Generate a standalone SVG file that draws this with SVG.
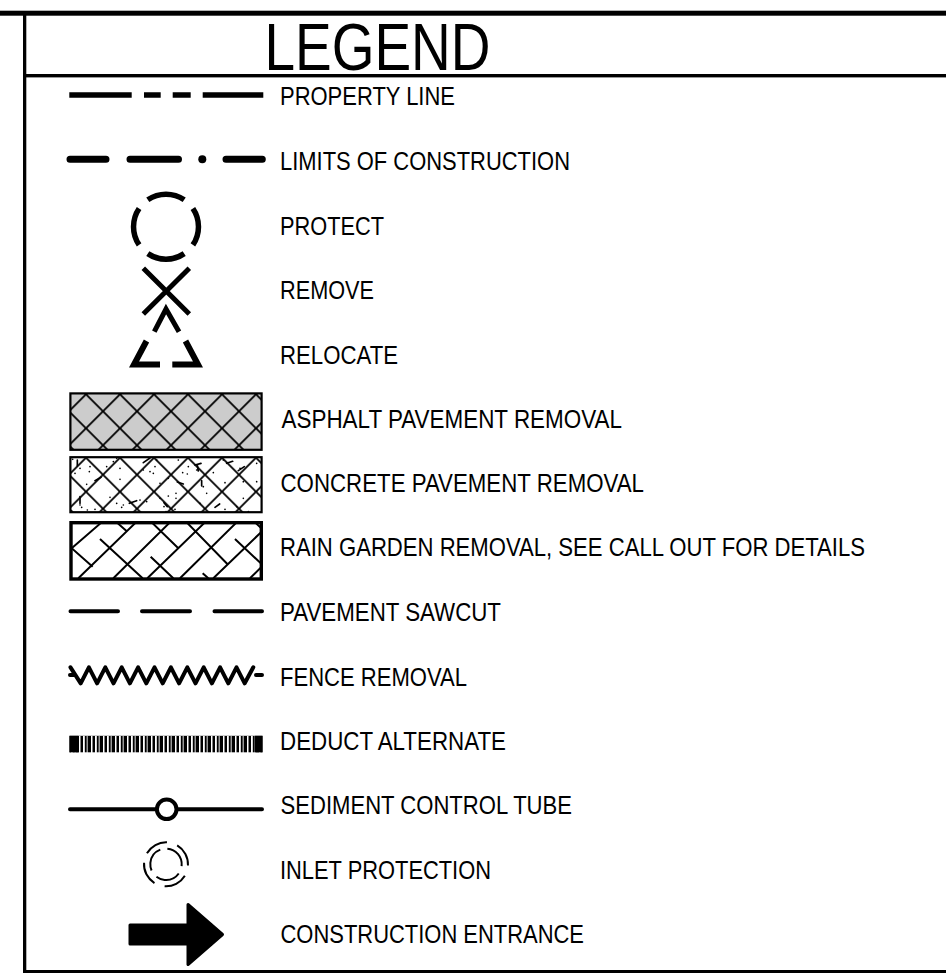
<svg xmlns="http://www.w3.org/2000/svg" width="946" height="973" viewBox="0 0 946 973">
<style>
text{font-family:"Liberation Sans",Arial,sans-serif;fill:#000}
.l{font-size:25px}
.s{fill:none;stroke:#000;stroke-linecap:butt}
.r{stroke-linecap:round;stroke-linejoin:round}
.box{fill:none;stroke:#000;stroke-width:2.200}
.h{fill:none;stroke:#000;stroke-width:1.800}
</style>
<defs>
<pattern id="xa" patternUnits="userSpaceOnUse" x="86" y="394.300" width="34" height="34"><path class="h" d="M-4 -4L38 38M38 -4L-4 38"/></pattern>
<pattern id="xc" patternUnits="userSpaceOnUse" x="86" y="457.700" width="34" height="34"><path class="h" d="M-4 -4L38 38M38 -4L-4 38"/></pattern>
<pattern id="bars" patternUnits="userSpaceOnUse" x="78" y="735" width="12" height="18"><rect width="12" height="18" fill="#000"/><rect x="1" y="1" width="1.500" height="17" fill="#fff"/><rect x="5" y="1" width="1.800" height="17" fill="#fff"/><rect x="8.500" y="1" width="1.500" height="17" fill="#999"/></pattern>
<clipPath id="rainclip"><rect x="70" y="522" width="192" height="58"/></clipPath>
</defs>
<rect width="946" height="973" fill="#fff"/>
<g id="frame" fill="#000">
<rect x="0" y="10.700" width="946" height="5"/>
<rect x="23" y="15" width="3.300" height="958"/>
<rect x="24" y="74" width="922" height="3.400"/>
<rect x="24" y="970" width="922" height="3"/>
</g>
<g id="title"><text x="264.500" y="69.500" font-size="67" textLength="226" lengthAdjust="spacingAndGlyphs">LEGEND</text></g>
<g id="connectors">
<path class="s" stroke-width="5.500" d="M69.300 95H131.700M144 95H160.700M172.700 95H190.700M202.700 95H263.300"/>
<path class="s r" stroke-width="7" d="M70 159.300H106M130 159.300H178.500M226 159.300H262.300"/>
<circle cx="202.300" cy="159.300" r="4"/>
<path class="s r" stroke-width="4" d="M70.500 611.300H118M142 611.300H190M214.500 611.300H262"/>
<path class="s r" stroke-width="4" d="M70 675H75M70.500 667.300L80.700 683.300L88.900 667.300L97.100 683.300L105.300 667.300L113.500 683.300L121.700 667.300L129.900 683.300L138.100 667.300L146.300 683.300L154.500 667.300L162.700 683.300L170.900 667.300L179.100 683.300L187.300 667.300L195.500 683.300L203.700 667.300L211.900 683.300L220.100 667.300L228.300 683.300L236.500 667.300L244.700 683.300L253.300 667.300M256 675H262"/>
<path class="s r" stroke-width="4" d="M70 809.300H155M178.500 809.300H262"/>
</g>
<g id="protect"><path class="s" stroke-width="5.500" d="M147.800 199.800A32.500 32.500 0 0 1 184.200 199.800M192.900 208.500A32.500 32.500 0 0 1 192.900 244.900M184.200 253.600A32.500 32.500 0 0 1 147.800 253.600M139.100 244.900A32.500 32.500 0 0 1 139.100 208.500"/></g>
<g id="remove"><path class="s" stroke-width="5" d="M143.300 268.300L189.300 314M189.300 268.300L143.300 314"/></g>
<g id="relocate"><path class="s" stroke-width="5" d="M154.300 331.700L166 309L179 331.700"/><path class="s" stroke-width="6" d="M146.500 341L134 364.500H160M185.500 341L198 364.500H172.300"/></g>
<g id="asphalt"><rect x="70.400" y="393.400" width="191.200" height="56.400" fill="#ccc"/><rect x="70.400" y="393.400" width="191.200" height="56.400" fill="url(#xa)"/><rect class="box" x="70.400" y="393.400" width="191.200" height="56.400"/></g>
<g id="concrete"><rect x="70.400" y="457.200" width="191.200" height="55" fill="url(#xc)"/>
<path transform="translate(60 450) scale(.3333)" fill="none" stroke="#000" stroke-width="5" stroke-linecap="round" stroke-linejoin="round" d="M38 28h.1M90 50h.1M88 65h.1M60 55h.1M45 70h.1M180 55h.1M140 50h.1M160 35h.1M170 25h.1M290 30h.1M285 50h.1M280 70h.1M270 65h.1M250 60h.1M355 30h.1M385 50h.1M368 68h.1M382 72h.1M410 60h.1M460 68h.1M490 30h.1M540 55h.1M590 40h.1M550 95h.1M590 95h.1M495 98h.1M430 110h.1M300 100h.1M325 85h.1M180 88h.1M80 103h.1M440 130h.1M420 160h.1M348 130h.1M348 145h.1M325 138h.1M300 145h.1M345 178h.1M312 170h.1M318 185h.1M240 150h.1M260 155h.1M190 165h.1M170 160h.1M185 172h.1M150 142h.1M60 165h.1M65 172h.1M82 180h.1M105 178h.1M35 183h.1M495 178h.1M530 170h.1M565 185h.1M550 145h.1M52 30v18M105 92l18 -10M208 160l22 -8M250 38l20 -14M352 96l18 6M405 45l18 -5M412 45l3 18M465 172l14 -10M500 40l18 -6M425 92v16M60 140v20M535 62l18 -12M312 158l10 12"/>
<rect class="box" x="70.400" y="457.200" width="191.200" height="55"/></g>
<g id="rain"><g clip-path="url(#rainclip)"><path transform="translate(60 515) scale(.3333)" fill="none" stroke="#000" stroke-width="6" d="M35 100L125 22M55 190L228 22M160 190L330 22M262 190L435 22M360 190L530 22M460 190L610 45M570 190L610 150M30 95L98 155M120 72L248 190M170 22L202 50M272 125L340 190M275 22L355 100M380 22L505 150M525 72L610 152M585 22L610 45M428 175L445 190"/></g><rect x="71" y="522.700" width="190.300" height="56.300" fill="none" stroke="#000" stroke-width="3.400"/></g>
<g id="deduct"><rect x="69.500" y="735.800" width="193" height="16.500" fill="url(#bars)"/><rect x="69.500" y="735.800" width="9" height="16.500"/><rect x="255" y="735.800" width="7.500" height="16.500"/></g>
<g id="tube"><circle cx="166.700" cy="809.300" r="9.800" fill="#fff" stroke="#000" stroke-width="4"/></g>
<g id="inlet"><circle cx="166" cy="864.300" r="22" transform="rotate(-150 166 864.300)" class="s" stroke-width="2" stroke-dasharray="23.800 10.750"/><circle cx="166" cy="864.300" r="15.700" transform="rotate(-85 166 864.300)" class="s" stroke-width="2" stroke-dasharray="25 7.900"/></g>
<g id="arrow"><path d="M130 925H188V904.500L222.500 934.500L188 964.500V944H130Z" stroke="#000" stroke-width="3" stroke-linejoin="round"/></g>
<g id="labels">
<text class="l" x="280" y="105" textLength="175" lengthAdjust="spacingAndGlyphs">PROPERTY LINE</text>
<text class="l" x="280" y="170" textLength="290" lengthAdjust="spacingAndGlyphs">LIMITS OF CONSTRUCTION</text>
<text class="l" x="280" y="235" textLength="104" lengthAdjust="spacingAndGlyphs">PROTECT</text>
<text class="l" x="280" y="299" textLength="94" lengthAdjust="spacingAndGlyphs">REMOVE</text>
<text class="l" x="280" y="364" textLength="118" lengthAdjust="spacingAndGlyphs">RELOCATE</text>
<text class="l" x="281.500" y="428" textLength="340.500" lengthAdjust="spacingAndGlyphs">ASPHALT PAVEMENT REMOVAL</text>
<text class="l" x="280.500" y="492" textLength="363.500" lengthAdjust="spacingAndGlyphs">CONCRETE PAVEMENT REMOVAL</text>
<text class="l" x="280" y="556" textLength="585" lengthAdjust="spacingAndGlyphs">RAIN GARDEN REMOVAL, SEE CALL OUT FOR DETAILS</text>
<text class="l" x="280" y="620.500" textLength="221" lengthAdjust="spacingAndGlyphs">PAVEMENT SAWCUT</text>
<text class="l" x="280" y="685.500" textLength="187" lengthAdjust="spacingAndGlyphs">FENCE REMOVAL</text>
<text class="l" x="280" y="750" textLength="226" lengthAdjust="spacingAndGlyphs">DEDUCT ALTERNATE</text>
<text class="l" x="280.500" y="814" textLength="291.500" lengthAdjust="spacingAndGlyphs">SEDIMENT CONTROL TUBE</text>
<text class="l" x="280" y="878.500" textLength="211" lengthAdjust="spacingAndGlyphs">INLET PROTECTION</text>
<text class="l" x="280.500" y="942.500" textLength="303.500" lengthAdjust="spacingAndGlyphs">CONSTRUCTION ENTRANCE</text>
</g>
</svg>
